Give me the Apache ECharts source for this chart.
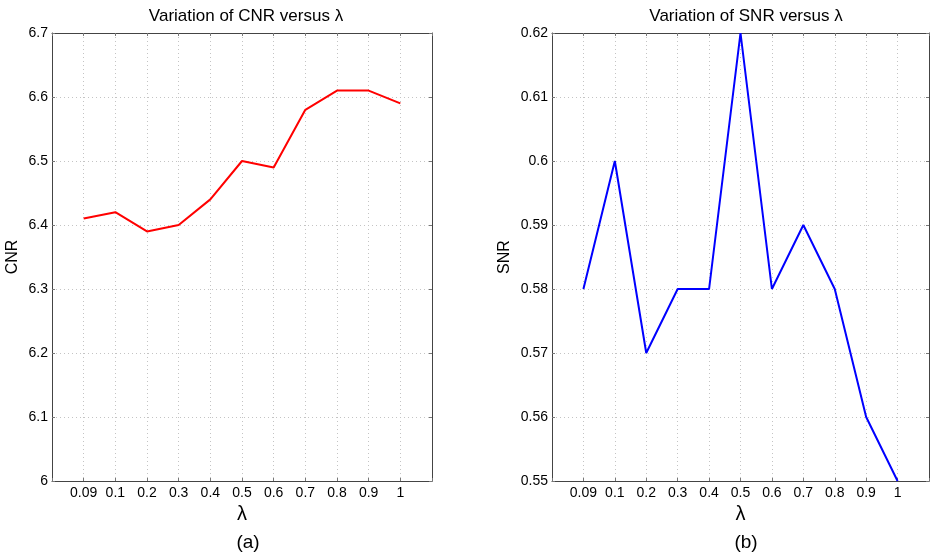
<!DOCTYPE html>
<html>
<head>
<meta charset="utf-8">
<script src="https://cdn.jsdelivr.net/npm/echarts@6/dist/echarts.min.js"></script>
<style>html,body{margin:0;padding:0;background:#fff;}#c{width:932px;height:555px;}</style>
</head>
<body>
<div id="c"></div>
<script>
const lambdaLabels = ['0.09','0.1','0.2','0.3','0.4','0.5','0.6','0.7','0.8','0.9','1'];
const cnrValues = [6.41, 6.42, 6.39, 6.40, 6.44, 6.50, 6.49, 6.58, 6.61, 6.61, 6.59];
const snrValues = [0.58, 0.60, 0.57, 0.58, 0.58, 0.62, 0.58, 0.59, 0.58, 0.56, 0.55];

const FONT = 'Liberation Sans, Arial, sans-serif';
const chart = echarts.init(document.getElementById('c'), null, {renderer:'canvas'});

function xLabel(v){ const i=Math.round(v)-1; return (i>=0 && i<lambdaLabels.length)? lambdaLabels[i] : ''; }

function xAxisCfg(gi){
  return {
    gridIndex: gi, type:'value', min:0, max:12, interval:1, position:'bottom',
    name:'λ', nameLocation:'middle', nameGap:15,
    nameTextStyle:{fontFamily:FONT, fontSize:20, color:'#000'},
    axisLine:{show:true, onZero:false, lineStyle:{color:'#444', width:1}},
    axisTick:{show:true, inside:true, length:3, lineStyle:{color:'#777'}},
    axisLabel:{fontFamily:FONT, fontSize:14, color:'#000', margin:5, formatter:xLabel},
    splitLine:{show:true, lineStyle:{color:'#c4c4c4', type:[1,3], width:1}}
  };
}
function xTopCfg(gi){
  return {
    gridIndex: gi, type:'value', min:0, max:12, interval:1, position:'top',
    axisLine:{show:true, onZero:false, lineStyle:{color:'#444', width:1}},
    axisTick:{show:true, inside:true, length:3, lineStyle:{color:'#777'}},
    axisLabel:{show:false}, splitLine:{show:false}
  };
}
function yAxisCfg(gi, name, min, max, interval, gap){
  return {
    gridIndex: gi, type:'value', min:min, max:max, interval:interval, position:'left',
    name:name, nameLocation:'middle', nameGap:gap, nameRotate:90,
    nameTextStyle:{fontFamily:FONT, fontSize:16, color:'#000'},
    axisLine:{show:true, onZero:false, lineStyle:{color:'#444', width:1}},
    axisTick:{show:true, inside:true, length:3, lineStyle:{color:'#777'}},
    axisLabel:{fontFamily:FONT, fontSize:14, color:'#000', margin:4},
    splitLine:{show:true, lineStyle:{color:'#c4c4c4', type:[1,3], width:1}}
  };
}
function yRightCfg(gi, min, max, interval){
  return {
    gridIndex: gi, type:'value', min:min, max:max, interval:interval, position:'right',
    axisLine:{show:true, onZero:false, lineStyle:{color:'#444', width:1}},
    axisTick:{show:true, inside:true, length:3, lineStyle:{color:'#777'}},
    axisLabel:{show:false}, splitLine:{show:false}
  };
}

chart.setOption({
  backgroundColor:'#fff',
  animation:false,
  title:[
    {text:'Variation of CNR versus λ', left:241, top:3, textAlign:'center', textStyle:{fontFamily:FONT, fontSize:17, fontWeight:'normal', color:'#000'}},
    {text:'Variation of SNR versus λ', left:741, top:3, textAlign:'center', textStyle:{fontFamily:FONT, fontSize:17, fontWeight:'normal', color:'#000'}},
    {text:'(a)', left:243, top:528, textAlign:'center', textStyle:{fontFamily:FONT, fontSize:19, fontWeight:'normal', color:'#000'}},
    {text:'(b)', left:741, top:528, textAlign:'center', textStyle:{fontFamily:FONT, fontSize:19, fontWeight:'normal', color:'#000'}}
  ],
  grid:[
    {left:52, top:33, width:380, height:448},
    {left:552, top:33, width:379, height:448}
  ],
  xAxis:[xAxisCfg(0), xAxisCfg(1), xTopCfg(0), xTopCfg(1)],
  yAxis:[yAxisCfg(0,'CNR',6,6.7,0.1,31), yAxisCfg(1,'SNR',0.55,0.62,0.01,39), yRightCfg(0,6,6.7,0.1), yRightCfg(1,0.55,0.62,0.01)],
  series:[
    {type:'line', xAxisIndex:0, yAxisIndex:0, data:cnrValues.map((v,i)=>[i+1,v]), showSymbol:false, lineStyle:{color:'#ff0000', width:2}, itemStyle:{color:'#ff0000'}},
    {type:'line', xAxisIndex:1, yAxisIndex:1, data:snrValues.map((v,i)=>[i+1,v]), showSymbol:false, lineStyle:{color:'#0000ff', width:2}, itemStyle:{color:'#0000ff'}}
  ]
});
</script>
</body>
</html>
